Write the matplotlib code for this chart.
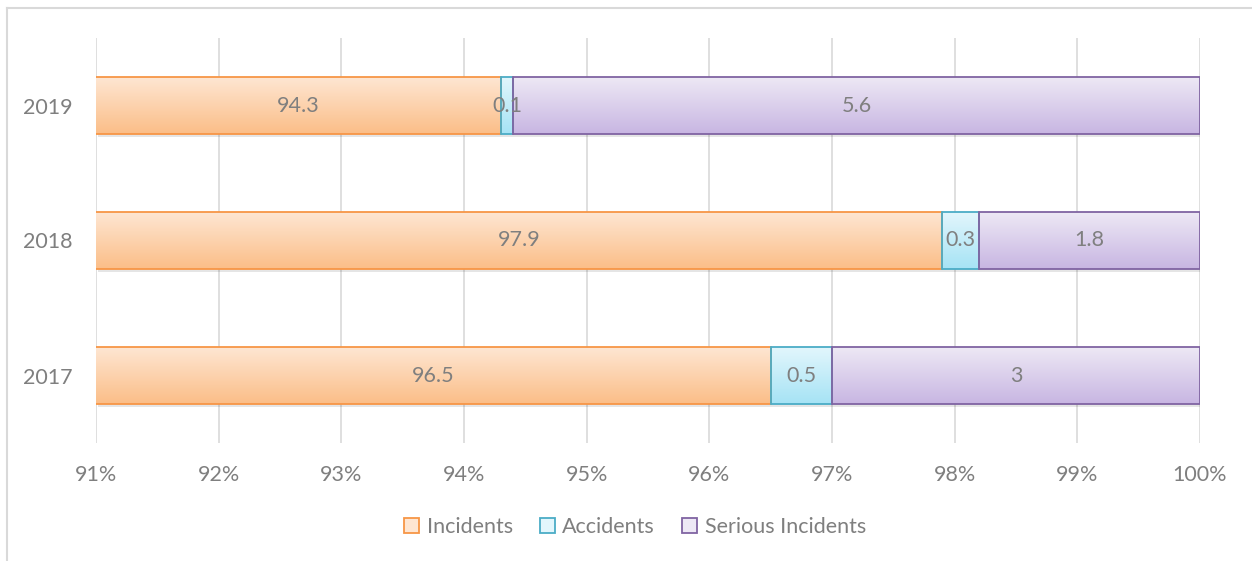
import numpy as np
import matplotlib
matplotlib.use("Agg")
import matplotlib.pyplot as plt
from matplotlib.patches import Patch
from matplotlib.colors import LinearSegmentedColormap
from matplotlib.lines import Line2D

years = ["2017", "2018", "2019"]
incidents = [96.5, 97.9, 94.3]
accidents = [0.5, 0.3, 0.1]
serious = [3, 1.8, 5.6]
xticks = [91, 92, 93, 94, 95, 96, 97, 98, 99, 100]
xtick_labels = ["91%", "92%", "93%", "94%", "95%", "96%", "97%", "98%", "99%", "100%"]

series = [
    ("Incidents", incidents, "#F79646", "#FEE6D2", "#FBBE88"),
    ("Accidents", accidents, "#4BACC6", "#E2F6FC", "#A6E3F5"),
    ("Serious Incidents", serious, "#8064A2", "#EDE8F5", "#C8B6E2"),
]

plt.rcParams["font.family"] = ["Lato", "DejaVu Sans"]
TEXT = "#7F7F7F"
GRID = "#D9D9D9"
FS = 15.5

W, H = 1252, 561
fig = plt.figure(figsize=(W / 100, H / 100), dpi=100)
ax = fig.add_axes([96 / W, 1 - 443 / H, (1200 - 96) / W, (443 - 38) / H])

XMIN, XMAX = 91, 100
ax.set_xlim(XMIN, XMAX)
ax.set_ylim(-0.5, 2.5)
ypos = np.arange(len(years))
height = 0.415

left = np.zeros(len(years))
for name, vals, edge, top, bottom in series:
    vals = np.asarray(vals, dtype=float)
    bars = ax.barh(ypos, vals, left=left, height=height, facecolor="none",
                   edgecolor=edge, linewidth=1.3, zorder=3)
    cmap = LinearSegmentedColormap.from_list(name, [bottom, top])
    grad = np.linspace(0, 1, 64).reshape(-1, 1)
    for i, bar in enumerate(bars):
        x0, y0 = bar.get_x(), bar.get_y()
        w, h = bar.get_width(), bar.get_height()
        vis0 = max(x0, XMIN)
        vis1 = min(x0 + w, XMAX)
        # soft shadow under each segment
        sh = plt.Rectangle((vis0 + 0.02, y0 - 0.025), vis1 - vis0, h,
                           facecolor="#000000", alpha=0.10, edgecolor="none", zorder=1.5)
        ax.add_patch(sh)
        ax.imshow(grad, extent=(vis0, vis1, y0, y0 + h), origin="lower",
                  cmap=cmap, aspect="auto", zorder=2, interpolation="bilinear")
        ax.text((vis0 + vis1) / 2, ypos[i], f"{vals[i]:g}", ha="center", va="center",
                fontsize=FS, color=TEXT, zorder=5)
    left = left + vals

ax.set_xlim(XMIN, XMAX)
ax.set_ylim(-0.5, 2.5)
ax.set_xticks(xticks)
ax.set_xticklabels(xtick_labels, fontsize=FS, color=TEXT)
ax.set_yticks(ypos)
ax.set_yticklabels(years, fontsize=FS, color=TEXT)
ax.tick_params(axis="both", length=0)
ax.tick_params(axis="x", pad=16)
ax.tick_params(axis="y", pad=17)
ax.grid(axis="x", color=GRID, linewidth=1.2, zorder=0)
ax.set_axisbelow(True)
for s in ax.spines.values():
    s.set_visible(False)

handles = [Patch(facecolor=top, edgecolor=edge, linewidth=1.3, label=name)
           for name, _, edge, top, bottom in series]
fig.legend(handles=handles, loc="center", bbox_to_anchor=(635 / W, 1 - 527 / H),
           ncol=3, frameon=False, fontsize=FS, labelcolor=TEXT,
           handlelength=0.7, handleheight=0.7, handletextpad=0.35, columnspacing=1.25)

# chart area border (top and left edges)
fig.add_artist(Line2D([7 / W, 1.0], [1 - 8 / H, 1 - 8 / H], color="#D9D9D9", linewidth=1.5))
fig.add_artist(Line2D([7 / W, 7 / W], [0, 1 - 8 / H], color="#D9D9D9", linewidth=1.5))

fig.savefig("out.png", dpi=100, facecolor="white")
